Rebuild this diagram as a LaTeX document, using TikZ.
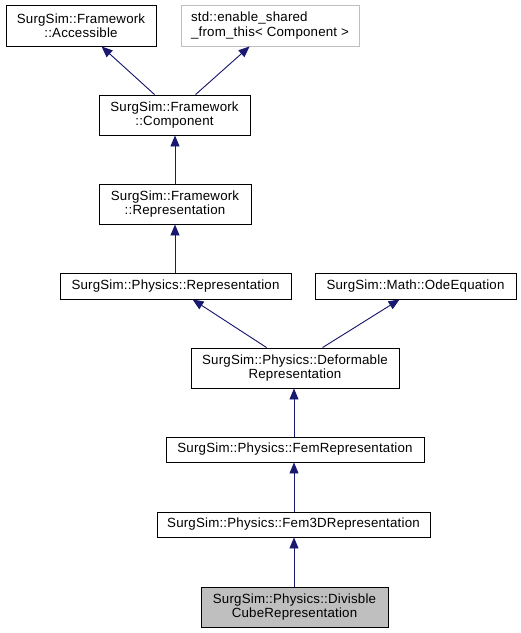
\documentclass[tikz,border=0pt]{standalone}
\usepackage{fontspec}
\setmainfont{Liberation Sans}[LetterSpace=1.5]
\usetikzlibrary{arrows.meta}
\definecolor{edgeblue}{RGB}{25,25,112}
\definecolor{extgray}{RGB}{191,191,191}
\tikzset{
  cls/.style={draw=black, line width=0.9pt, fill=white, inner sep=0pt,
    align=center, text=black, font={\fontsize{13.3}{14.5}\selectfont}},
  extcls/.style={cls, draw=extgray},
  focus/.style={cls, fill=extgray},
  inherit/.style={draw=edgeblue, line width=0.9pt,
    -{Triangle[length=11pt,width=9pt]}, fill=edgeblue}
}
\begin{document}
\begin{tikzpicture}[x=1pt,y=-1pt]
\useasboundingbox (0,0) rectangle (521,633);

% class boxes, top to bottom
\node[cls, minimum width=150pt, minimum height=41pt] (acc) at (81,25.5)
  {SurgSim::Framework\\::Accessible};
\node[extcls, minimum width=178pt, minimum height=41pt, align=left] (ena) at (270,25.5)
  {std::enable\_shared\\\_from\_this< Component >};
\node[cls, minimum width=151pt, minimum height=40pt] (comp) at (174.5,115)
  {SurgSim::Framework\\::Component};
\node[cls, minimum width=152pt, minimum height=40pt] (frep) at (175,204)
  {SurgSim::Framework\\::Representation};
\node[cls, minimum width=231pt, minimum height=26pt] (prep) at (175.5,286)
  {SurgSim::Physics::Representation};
\node[cls, minimum width=201pt, minimum height=26pt] (ode) at (415.5,286)
  {SurgSim::Math::OdeEquation};
\node[cls, minimum width=208pt, minimum height=40pt] (def) at (295,368)
  {SurgSim::Physics::Deformable\\Representation};
\node[cls, minimum width=258pt, minimum height=25pt] (fem) at (295,449.5)
  {SurgSim::Physics::FemRepresentation};
\node[cls, minimum width=273pt, minimum height=25pt] (fem3d) at (293.5,524.5)
  {SurgSim::Physics::Fem3DRepresentation};
\node[focus, minimum width=187pt, minimum height=40pt] (div) at (294.5,607)
  {SurgSim::Physics::Divisble\\CubeRepresentation};

% inheritance arrows, child to parent
\draw[inherit] ([xshift=56pt]comp.north west) -- ([xshift=96pt]acc.south west);
\draw[inherit] ([xshift=97pt]comp.north west) -- ([xshift=69pt]ena.south west);
\draw[inherit] (frep.north) -- (frep.north |- comp.south);
\draw[inherit] (prep.north -| frep.north) -- (frep.south);
\draw[inherit] ([xshift=76pt]def.north west) -- ([xshift=133pt]prep.south west);
\draw[inherit] ([xshift=132pt]def.north west) -- ([xshift=85pt]ode.south west);
\draw[inherit] ([xshift=-1pt]fem.north) -- ([xshift=-1pt]fem.north |- def.south);
\draw[inherit] ([xshift=-1pt]fem3d.north -| fem.north) -- ([xshift=-1pt]fem.south);
\draw[inherit] ([xshift=-0.5pt]div.north) -- ([xshift=-0.5pt]div.north |- fem3d.south);
\end{tikzpicture}
\end{document}
